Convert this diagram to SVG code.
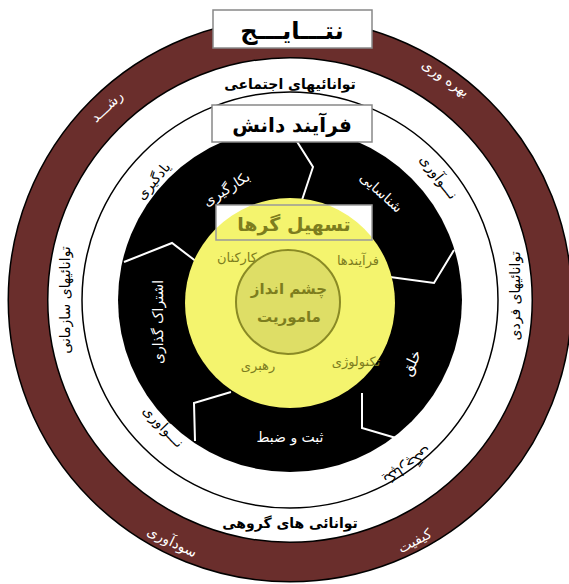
<svg xmlns="http://www.w3.org/2000/svg" width="569" height="584" viewBox="0 0 569 584">
<style>
text{font-family:"DejaVu Sans","Noto Sans",sans-serif;text-anchor:middle;direction:rtl}
.w{fill:#fff}
.b{fill:#000}
.y{fill:#7d7d1e}
.bold{font-weight:bold}
.sep{fill:none;stroke:#fff;stroke-width:2}
.box{fill:#fff;stroke:#888;stroke-width:1.5}
</style>
<g id="outer-ring">
<circle cx="290" cy="300" r="262" fill="none" stroke="#000" stroke-width="41"/>
<circle cx="290" cy="300" r="262" fill="none" stroke="#6a2e2c" stroke-width="38"/>
</g>
<g id="social-ring">
<circle cx="290" cy="300" r="208" fill="none" stroke="#000" stroke-width="1.5"/>
</g>
<g id="knowledge-ring">
<circle cx="290" cy="300" r="172" fill="#000"/>
</g>
<g id="connectors">
<polyline class="sep" points="296,140 313,167 301,203"/>
<polyline class="sep" points="124,262 172,243 197,262"/>
<polyline class="sep" points="454,250 434,283 390,277"/>
<polyline class="sep" points="231,392 194,403 195,441"/>
<polyline class="sep" points="362,393 362,428 396,438"/>
</g>
<g id="facilitators">
<rect x="216" y="205" width="156" height="35" fill="#fff"/>
<circle cx="290" cy="303" r="105" fill="#f4f46e"/>
<rect x="216" y="205" width="156" height="35" fill="none" stroke="#999" stroke-width="1.5"/>
<text x="294" y="231" class="y bold" font-size="19">تسهیل گرها</text>
<text x="237" y="262" class="y" font-size="13">کارکنان</text>
<text x="358" y="265" class="y" font-size="13">فرآیندها</text>
<text x="356" y="366" class="y" font-size="13">تکنولوژی</text>
<text x="258" y="370" class="y" font-size="13">رهبری</text>
</g>
<g id="vision">
<circle cx="288" cy="302" r="52" fill="#dede66" stroke="#8a8a25" stroke-width="2"/>
<text x="289" y="294" class="y bold" font-size="15">چشم انداز</text>
<text x="289" y="322" class="y bold" font-size="15">ماموریت</text>
</g>
<g id="results">
<rect x="213" y="10" width="159" height="38" class="box"/>
<text x="292" y="39" class="b bold" font-size="24">نتـــایـــج</text>
</g>
<g id="knowledge-process">
<rect x="212" y="105" width="160" height="37" class="box"/>
<text x="292" y="132" class="b bold" font-size="20">فرآیند دانش</text>
</g>
<g id="capabilities">
<text x="290" y="89" class="b bold" font-size="14">توانائیهای اجتماعی</text>
<text transform="translate(520,296) rotate(-90)" class="b" font-size="14">توانائیهای فردی</text>
<text transform="translate(70,300) rotate(-90)" class="b" font-size="14">توانائیهای سازمانی</text>
<text x="290" y="528" class="b bold" font-size="14">توانائی های گروهی</text>
</g>
<g id="outcomes">
<text transform="translate(110,110) rotate(-43)" class="w" font-size="14">رشـــد</text>
<text transform="translate(443,82) rotate(35)" class="w" font-size="14">بهره وری</text>
<text transform="translate(417,545) rotate(-28)" class="w" font-size="14">کیفیت</text>
<text transform="translate(170,546) rotate(26)" class="w" font-size="14">سودآوری</text>
</g>
<g id="learning">
<text transform="translate(157,184) rotate(-50)" class="b" font-size="14">یادگیری</text>
<text transform="translate(435,180) rotate(52)" class="b" font-size="14">نـــوآوری</text>
<text transform="translate(160,430) rotate(46)" class="b" font-size="14">نـــوآوری</text>
<text transform="translate(405,462) rotate(146)" class="b" font-size="14">یکپارچگی</text>
</g>
<g id="process-steps">
<text transform="translate(229,193) rotate(-32)" class="w" font-size="14">بکارگیری</text>
<text transform="translate(378,196) rotate(42)" class="w" font-size="14">شناسایی</text>
<text transform="translate(163,322) rotate(-90)" class="w" font-size="14">اشتراک گذاری</text>
<text transform="translate(416,365) rotate(-65)" class="w" font-size="15">خلق</text>
<text x="290" y="442" class="w" font-size="14">ثبت و ضبط</text>
</g>
</svg>
